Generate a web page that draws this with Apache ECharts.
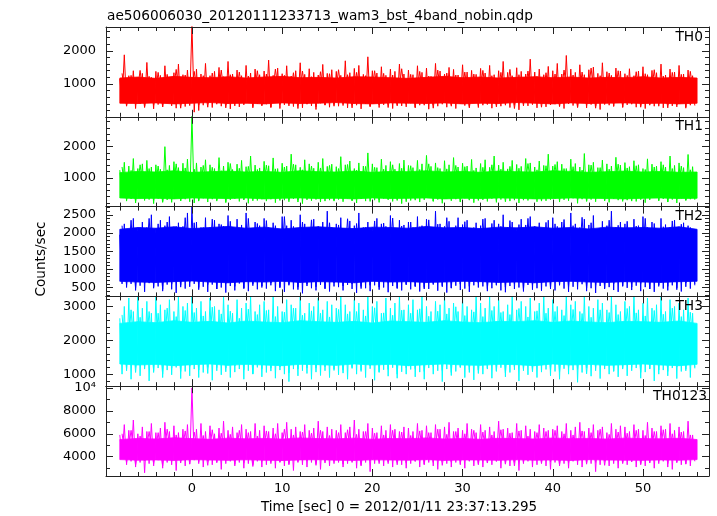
<!DOCTYPE html>
<html><head><meta charset="utf-8">
<script src="https://cdn.jsdelivr.net/npm/echarts@6/dist/echarts.min.js"></script>
<style>html,body{margin:0;padding:0;background:#fff}#c{width:717px;height:516px}</style>
</head><body><div id="c"></div>
<script>
// large excursions: 0.5 s bins starting at -8 s; each bin gives its high then its low sample
const T_START = -8, T_STEP = 0.5;
// smaller excursions: 1 s bins starting at -7.75 s
const T2_START = -7.75, T2_STEP = 1;
// dense core of each light curve, read every 2 s from -8 s to 56 s
const CORE_START = -8, CORE_STEP = 2;

const th0High = [
1150,1880,1250,1400,1180,1320,1650,1200,1380,1260,1550,1210,1340,1600,1280,1420,
2800,1450,1300,1620,1250,1380,1500,1220,1680,1300,1420,1250,1560,1330,1450,1280,
1390,1720,1260,1480,1310,1550,1240,1400,1640,1290,1460,1350,1270,1590,1320,1430,
1380,1260,1700,1340,1470,1560,1290,1820,1400,1330,1520,1260,1450,1380,1600,1300,
1420,1280,1550,1350,1480,1230,1620,1390,1300,1500,1440,1270,1580,1360,1410,1290,
1470,1330,1560,1280,1400,1680,1350,1250,1490,1380,1300,1750,1360,1450,1280,1530,
1400,1620,1300,1860,1450,1350,1580,1280,1430,1510,1320,1640,1370,1260,1480,1390,
1310,1460,1250,1390,1520,1280,1410,1340,1600,1270,1450,1360,1560,1300,1420,1250];
const th0Low = [
480,350,420,260,400,330,440,250,380,310,450,340,270,390,320,430,
150,200,360,410,290,440,330,380,250,420,310,370,430,280,400,340,
390,300,440,260,370,410,320,450,280,390,340,230,420,360,300,380,
330,410,280,440,360,250,400,320,430,290,370,410,260,380,340,310,
420,280,360,400,240,380,330,440,300,370,260,410,350,320,430,290,
360,400,270,380,330,440,290,360,220,400,340,380,280,420,310,370,
390,330,260,410,350,300,430,280,380,340,230,400,360,320,440,290,
370,420,300,350,260,390,330,410,280,380,340,310,430,270,360,400];
const th0High2 = [
1320,1260,1410,1230,1350,1290,1440,1270,1380,1250,1330,1420,1280,1360,1240,1400,
1300,1450,1260,1340,1390,1220,1370,1310,1430,1280,1350,1250,1400,1320,1270,1460,
1290,1380,1240,1420,1330,1270,1360,1300,1410,1250,1350,1440,1280,1390,1230,1340,
1300,1420,1270,1360,1480,1250,1330,1400,1260,1370,1310,1430,1240,1350,1290,1380];
const th0Low2 = [
330,380,290,360,310,400,270,350,370,300,390,280,340,410,320,360,
290,380,340,260,400,310,370,330,350,280,410,320,370,290,340,390,
300,360,270,390,330,400,280,350,380,310,360,260,340,390,300,370,
320,400,290,350,270,380,340,310,390,300,360,330,280,370,310,350];
const th0CoreHigh = [1180,1210,1170,1230,1200,1190,1220,1180,1210,1230,1190,1200,1180,1220,1210,1190,
1170,1200,1230,1190,1210,1180,1200,1220,1190,1210,1180,1200,1190,1220,1180,1200,1180];
const th0CoreLow = [420,410,430,400,420,440,410,420,400,430,410,420,440,410,400,430,
420,410,430,400,420,410,440,420,400,430,410,420,430,410,420,400,420];

const th1High = [
1250,1500,1380,1620,1300,1450,1560,1350,1420,1280,2000,1400,1520,1330,1470,1600,
3000,1480,1350,1580,1420,1300,1650,1380,1500,1270,1440,1560,1360,1700,1410,1320,
1530,1390,1640,1300,1470,1380,1760,1420,1340,1580,1450,1310,1500,1620,1370,1440,
1360,1680,1420,1540,1300,1480,1380,1800,1450,1330,1600,1400,1520,1280,1460,1570,
1400,1330,1560,1450,1720,1370,1480,1300,1550,1420,1650,1350,1470,1380,1590,1320,
1460,1580,1340,1700,1410,1500,1290,1560,1430,1370,1620,1480,1350,1540,1400,1760,
1380,1520,1440,1300,1600,1460,1350,1780,1420,1500,1330,1570,1450,1380,1660,1410,
1490,1360,1550,1420,1300,1610,1440,1380,1520,1350,1700,1400,1480,1330,1750,1360];
const th1Low = [
380,260,330,200,350,280,310,180,340,250,300,220,360,270,320,240,
200,290,350,230,320,260,380,210,300,340,250,310,190,350,280,330,
260,320,210,370,290,240,330,300,180,350,270,310,230,340,290,260,
310,240,350,280,200,330,260,370,290,220,340,300,250,320,180,350,
280,330,230,300,360,250,310,190,340,270,320,240,350,290,210,330,
300,250,340,220,310,370,260,290,200,330,280,350,240,310,270,320,
340,230,300,270,350,190,320,260,310,240,360,280,220,330,290,250,
290,340,250,320,210,300,360,270,330,240,310,200,350,280,320,300];
const th1High2 = [
1350,1240,1420,1300,1380,1260,1450,1320,1280,1400,1340,1230,1460,1310,1370,1270,
1410,1290,1350,1440,1260,1380,1320,1400,1300,1430,1250,1370,1340,1280,1420,1310,
1390,1270,1450,1330,1290,1400,1360,1240,1340,1420,1280,1370,1310,1460,1260,1390,
1430,1300,1360,1250,1410,1330,1280,1440,1320,1390,1270,1350,1420,1300,1380,1260];
const th1Low2 = [
300,250,340,280,220,320,270,350,260,330,290,240,350,300,270,320,
340,280,310,230,300,350,260,290,320,270,340,250,300,330,280,240,
290,350,260,310,340,230,300,280,330,270,240,320,290,350,260,310,
280,340,300,250,320,270,350,290,260,310,340,280,230,320,290,330];
const th1CoreHigh = [1170,1210,1190,1230,1180,1200,1220,1190,1210,1180,1230,1200,1190,1220,1180,1210,
1200,1230,1190,1210,1180,1220,1200,1190,1230,1210,1180,1200,1220,1190,1210,1180,1190];
const th1CoreLow = [360,340,350,330,360,350,340,360,330,350,360,340,350,330,360,340,
350,360,330,350,340,360,350,330,340,360,350,340,330,350,360,340,350];

const th2High = [
1950,2250,2100,2400,2050,2300,2150,2500,2000,2350,2200,2450,2080,2280,2180,2550,
2750,2300,2150,2420,2050,2350,2250,2180,2480,2100,2380,2220,2550,2120,2300,2200,
2400,2150,2280,2050,2450,2200,2350,2120,2500,2250,2080,2380,2180,2300,2600,2150,
2250,2420,2100,2330,2200,2550,2150,2300,2050,2400,2250,2180,2480,2120,2350,2220,
2300,2150,2450,2200,2380,2080,2600,2250,2180,2320,2100,2420,2230,2350,2050,2280,
2200,2400,2120,2350,2250,2500,2150,2300,2050,2380,2220,2450,2180,2280,2100,2350,
2420,2180,2300,2080,2550,2250,2150,2380,2220,2480,2100,2320,2200,2600,2150,2300,
2250,2100,2380,2200,2450,2150,2300,2050,2400,2230,2150,2350,2080,2280,2200,2050];
const th2Low = [
600,500,600,420,550,380,620,480,530,400,580,450,350,560,470,520,
600,440,520,380,580,460,500,360,540,420,610,480,400,550,450,500,
470,560,400,520,380,590,450,510,340,540,480,420,570,460,390,530,
510,420,570,460,350,530,480,400,560,440,500,370,540,470,420,580,
450,540,390,500,460,580,410,520,360,490,550,430,470,380,560,500,
530,400,480,560,420,370,540,460,500,390,570,440,480,410,530,460,
420,560,470,380,520,450,590,400,480,350,540,460,510,430,380,550,
490,430,550,400,510,460,380,530,470,420,560,440,390,520,470,600];
const th2High2 = [
2200,2350,2150,2400,2250,2300,2180,2420,2280,2150,2380,2230,2320,2120,2400,2260,
2340,2200,2450,2180,2300,2360,2140,2280,2220,2390,2260,2150,2330,2270,2410,2190,
2300,2170,2360,2240,2420,2200,2310,2150,2380,2260,2180,2340,2230,2400,2160,2290,
2250,2370,2200,2430,2280,2140,2350,2210,2320,2190,2400,2260,2170,2330,2240,2150];
const th2Low2 = [
560,480,620,520,450,590,510,640,500,580,460,610,530,470,600,540,
620,490,560,440,590,520,480,630,540,600,470,560,510,640,490,580,
520,460,610,550,480,590,530,620,470,570,510,600,450,560,620,500,
580,520,640,480,560,490,600,530,510,610,460,570,530,490,620,560];
const th2CoreHigh = [2100,2150,2130,2170,2120,2150,2180,2130,2160,2110,2150,2170,2140,2120,2160,2150,
2130,2180,2140,2150,2120,2160,2140,2170,2130,2150,2110,2160,2140,2150,2130,2170,2100];
const th2CoreLow = [670,650,640,660,680,650,630,660,650,670,640,660,650,630,670,650,
660,640,650,670,660,640,650,630,660,670,650,640,660,650,640,660,670];

const th3High = [
2650,3000,3250,2850,3300,2950,3150,2800,3300,3050,2900,3200,2850,3300,3000,3100,
3300,2950,3150,2850,3250,3000,2900,3300,3050,2800,3200,2950,3100,3300,2850,3050,
3150,2900,3300,3000,2850,3200,3050,2950,3300,2800,3100,3000,3250,2900,3150,3050,
2950,3300,3050,2850,3200,3100,2900,3300,3000,3150,2800,3250,2950,3100,3300,2900,
3050,3200,2900,3300,3000,2850,3150,3050,3300,2950,3100,2850,3250,3000,2900,3300,
3100,2950,3300,3000,3200,2850,3050,3300,2900,3150,3000,3250,2850,3100,3300,2950,
3200,3000,2900,3300,3050,3150,2850,3300,3000,2950,3200,3100,2900,3300,3050,2850,
3150,3000,3300,2900,3100,3250,2950,3050,3300,2850,3200,3000,3100,2900,3250,2800];
const th3Low = [
1000,1100,850,1200,950,1150,800,1050,1180,900,1120,980,1200,870,1080,950,
1150,900,1050,1200,820,1100,980,1180,900,1060,1150,850,1100,1000,1200,920,
1050,1180,880,1120,1000,780,1150,950,1100,1020,850,1180,960,1100,900,1150,
980,1120,850,1200,1000,1080,900,1160,820,1050,1130,940,1190,880,1070,1000,
1140,920,1060,850,1180,1000,1100,780,1150,960,1080,1200,900,1050,830,1120,
1000,1150,880,1080,1190,920,1050,1130,800,1100,980,1170,900,1060,1140,950,
1080,850,1160,1000,1120,760,1050,1180,940,1100,870,1150,1000,1080,920,1190,
950,1100,1180,880,1060,1150,800,1000,1120,950,1180,870,1080,1150,900,1200];
const th3High2 = [
2750,2900,2680,2850,2800,2950,2700,2880,2820,2720,2980,2780,2860,2650,2920,2760,
2880,2700,2830,2950,2740,2870,2800,2690,2910,2780,2850,2720,2960,2810,2740,2890,
2800,2930,2710,2860,2780,2990,2730,2840,2700,2880,2820,2760,2940,2690,2870,2800,
2850,2730,2910,2790,2680,2900,2820,2760,2940,2810,2720,2880,2770,2950,2700,2830];
const th3Low2 = [
1150,1050,1200,1100,1000,1180,1080,1230,1120,1020,1190,1070,1240,1130,1010,1160,
1090,1210,1040,1150,1180,1060,1220,1110,1030,1170,1120,1250,1070,1140,1000,1190,
1160,1080,1230,1110,1050,1200,1130,1020,1180,1100,1040,1210,1150,1070,1240,1120,
1060,1190,1140,1010,1170,1230,1090,1150,1200,1050,1160,1120,1080,1220,1100,1170];
const th3CoreHigh = [2500,2550,2520,2580,2530,2560,2510,2570,2540,2520,2580,2550,2530,2560,2510,2570,
2550,2530,2580,2540,2520,2560,2550,2580,2530,2570,2540,2520,2560,2550,2530,2570,2500];
const th3CoreLow = [1300,1270,1290,1250,1280,1300,1260,1290,1270,1250,1290,1280,1260,1300,1270,1290,
1250,1280,1300,1270,1260,1290,1280,1250,1300,1270,1290,1260,1280,1300,1270,1250,1290];

const thAllHigh = [
5900,6800,6300,7200,6000,6600,6200,6900,6100,6500,7000,6200,6700,6100,6400,6800,
10000,6400,6900,6200,6700,6000,6500,7100,6300,6600,6100,6800,6400,6200,6900,6300,
6700,6200,6500,6900,6100,7000,6400,6600,6200,6800,6300,6500,7100,6200,6600,6400,
6300,6800,6100,6600,7200,6400,6200,6900,6500,6100,6700,6300,6800,6400,6200,6600,
6500,6200,6900,6300,6700,6100,6800,6400,6600,7000,6200,6500,6300,6900,6400,6100,
6800,6300,6600,6200,7100,6400,6500,6100,6900,6300,6700,6400,6200,6800,6500,6300,
6400,6700,6200,6900,6300,6600,7000,6200,6500,6800,6300,6600,6100,6900,6400,6700,
6600,6200,6800,6400,6300,7000,6500,6200,6700,6400,6900,6300,6600,6200,7100,5900];
const thAllLow = [
3900,3300,3600,3100,3500,2600,3400,3200,3700,3000,3500,3300,2800,3600,3200,3400,
3700,3400,3100,3600,3300,3500,2900,3400,3600,3200,3500,3000,3400,3300,3600,3100,
3300,3600,3000,3500,3200,3400,2800,3600,3300,3100,3500,3400,2900,3600,3200,3400,
3500,3100,3400,3600,3000,3300,3500,2700,3400,3600,3200,3400,3100,3500,3300,3000,
3400,3600,3100,3300,3500,3200,2900,3600,3400,3100,3500,3300,3000,3600,3200,3400,
3100,3500,3300,3600,3000,3400,3200,3500,2800,3400,3600,3100,3300,3500,3200,2900,
3500,3200,3400,3000,3600,3300,3100,3500,3400,2700,3300,3600,3200,3400,3000,3500,
3300,3600,3100,3400,3200,3500,3000,3400,3600,3100,2900,3500,3300,3400,3200,3700];
const thAllHigh2 = [
6000,6300,5800,6200,6100,6400,5900,6250,6150,5850,6350,6050,5950,6300,6100,5800,
6250,6000,6400,5900,6150,6050,6300,5850,6100,6350,5950,6200,6050,5900,6300,6150,
5850,6250,6100,6400,5950,6200,6000,6300,6150,5900,6350,6050,6250,5800,6100,6200,
6300,6000,5900,6250,6100,6400,5950,6150,6050,6300,5850,6200,6350,6000,6150,5900];
const thAllLow2 = [
3500,3300,3650,3400,3200,3600,3450,3350,3550,3250,3500,3650,3350,3450,3150,3600,
3400,3550,3300,3500,3650,3250,3450,3600,3350,3500,3200,3650,3400,3550,3300,3450,
3600,3350,3500,3250,3550,3400,3650,3300,3450,3600,3350,3200,3500,3650,3400,3550,
3300,3450,3600,3350,3500,3250,3650,3400,3550,3300,3450,3600,3400,3500,3350,3600];
const thAllCoreHigh = [5500,5600,5550,5650,5580,5520,5620,5560,5600,5540,5640,5580,5560,5620,5530,5600,
5570,5640,5550,5600,5520,5610,5580,5550,5630,5570,5600,5540,5620,5580,5560,5610,5500];
const thAllCoreLow = [3750,3700,3720,3680,3740,3710,3690,3730,3700,3670,3720,3740,3700,3680,3730,3710,
3700,3740,3680,3720,3710,3690,3730,3700,3720,3680,3740,3710,3700,3690,3720,3700,3750];

const panelNames = ['TH0', 'TH1', 'TH2', 'TH3', 'TH0123'];
const colors = ['#ff0000', '#00ff00', '#0000ff', '#00ffff', '#ff00ff'];
const highs = [th0High, th1High, th2High, th3High, thAllHigh];
const lows = [th0Low, th1Low, th2Low, th3Low, thAllLow];
const highs2 = [th0High2, th1High2, th2High2, th3High2, thAllHigh2];
const lows2 = [th0Low2, th1Low2, th2Low2, th3Low2, thAllLow2];
const coreHighs = [th0CoreHigh, th1CoreHigh, th2CoreHigh, th3CoreHigh, thAllCoreHigh];
const coreLows = [th0CoreLow, th1CoreLow, th2CoreLow, th3CoreLow, thAllCoreLow];
const yMin = [10, 84, 255, 644, 2320];
const yMax = [2720, 2955, 2725, 3297, 10150];
const yMajor = [1000, 1000, 500, 1000, 2000];
const yMinorSplit = [5, 5, 5, 5, 2];
const xMin = -9.53, xMax = 57.32, xMajor = 10;
const mainTitle = 'ae506006030_20120111233713_wam3_bst_4band_nobin.qdp';
const xTitle = 'Time [sec] 0 = 2012/01/11 23:37:13.295';
const yTitle = 'Counts/sec';

function zigzag(hi, lo, start, step) {
  const d = [];
  for (let i = 0; i < hi.length; i++) {
    const t = start + i * step;
    d.push([t, hi[i]]);
    d.push([t + step / 2, lo[i]]);
  }
  return d;
}
// one item per core segment: [t0, lo0, hi0, t1, lo1, hi1]
function coreSegments(hi, lo) {
  const d = [];
  for (let i = 0; i + 1 < hi.length; i++) {
    d.push([CORE_START + i * CORE_STEP, lo[i], hi[i],
            CORE_START + (i + 1) * CORE_STEP, lo[i + 1], hi[i + 1]]);
  }
  return d;
}
function makeCoreRenderer(color) {
  return function (params, api) {
    const a = api.coord([api.value(0), api.value(2)]);
    const b = api.coord([api.value(3), api.value(5)]);
    const c = api.coord([api.value(3), api.value(4)]);
    const d = api.coord([api.value(0), api.value(1)]);
    return {type: 'polygon', shape: {points: [a, b, c, d]},
      style: {fill: color, stroke: color, lineWidth: 0.8}, silent: true};
  };
}

const FONT = 'DejaVu Sans';
const GRID_TOP = 27, GRID_H = 89.8, GRID_LEFT = 106, GRID_W = 603;
const grids = [], xAxes = [], yAxes = [], series = [];
const titles = [
  {text: mainTitle, left: 107, top: 9, padding: 0,
   textStyle: {fontFamily: FONT, fontSize: 13.7, fontWeight: 'normal', color: '#000'}},
  {text: xTitle, left: 261, top: 500, padding: 0,
   textStyle: {fontFamily: FONT, fontSize: 13.5, fontWeight: 'normal', color: '#000'}}
];
const lineCol = '#222';
for (let i = 0; i < 5; i++) {
  const top = GRID_TOP + i * GRID_H;
  grids.push({left: GRID_LEFT, top: top, width: GRID_W, height: GRID_H});
  titles.push({text: panelNames[i], right: i === 4 ? 10 : 14, top: top + 3, padding: 0, z: 10,
    textStyle: {fontFamily: FONT, fontSize: 13.8, fontWeight: 'normal', color: '#000'}});
  const axisLine = {show: true, onZero: false, lineStyle: {color: lineCol, width: 1}};
  ['bottom', 'top'].forEach(function (pos) {
    xAxes.push({type: 'value', gridIndex: i, position: pos, min: xMin, max: xMax,
      minInterval: xMajor, maxInterval: xMajor, z: 5,
      axisLine: axisLine,
      axisTick: {show: true, inside: true, length: 7, lineStyle: {color: lineCol}},
      minorTick: {show: true, splitNumber: 5, length: 4, lineStyle: {color: lineCol}},
      splitLine: {show: false}, minorSplitLine: {show: false},
      axisLabel: {show: pos === 'bottom' && i === 4, margin: 6, fontFamily: FONT, fontSize: 13,
        color: '#000', showMinLabel: false, showMaxLabel: false,
        formatter: function (v) { return String(v); }}
    });
  });
  ['left', 'right'].forEach(function (pos) {
    yAxes.push({type: 'value', gridIndex: i, position: pos, min: yMin[i], max: yMax[i],
      minInterval: yMajor[i], maxInterval: yMajor[i], z: 5,
      axisLine: axisLine,
      axisTick: {show: true, inside: true, length: 7, lineStyle: {color: lineCol}},
      minorTick: {show: true, splitNumber: yMinorSplit[i], length: 4, lineStyle: {color: lineCol}},
      splitLine: {show: false}, minorSplitLine: {show: false},
      axisLabel: {show: pos === 'left', margin: 10, fontFamily: FONT, fontSize: 13,
        color: '#000', showMinLabel: false, showMaxLabel: false,
        formatter: function (v) { return v === 10000 ? '10\u2074' : String(v); }}
    });
  });
  // dense core band
  series.push({type: 'custom', xAxisIndex: 2 * i, yAxisIndex: 2 * i, z: 1,
    data: coreSegments(coreHighs[i], coreLows[i]),
    encode: {x: [0, 3], y: [1, 2, 4, 5]},
    renderItem: makeCoreRenderer(colors[i]), silent: true, animation: false});
  // excursions
  series.push({type: 'line', xAxisIndex: 2 * i, yAxisIndex: 2 * i, z: 2,
    data: zigzag(highs2[i], lows2[i], T2_START, T2_STEP), showSymbol: false, symbol: 'none',
    lineStyle: {color: colors[i], width: 1}, itemStyle: {color: colors[i]},
    clip: true, silent: true, animation: false});
  series.push({type: 'line', xAxisIndex: 2 * i, yAxisIndex: 2 * i, z: 2,
    data: zigzag(highs[i], lows[i], T_START, T_STEP), showSymbol: false, symbol: 'none',
    lineStyle: {color: colors[i], width: 1}, itemStyle: {color: colors[i]},
    clip: true, silent: true, animation: false});
}

const chart = echarts.init(document.getElementById('c'), null, {renderer: 'canvas'});
chart.setOption({
  backgroundColor: '#fff',
  animation: false,
  title: titles,
  grid: grids,
  xAxis: xAxes,
  yAxis: yAxes,
  series: series,
  graphic: [{type: 'text', x: 41, y: 259, rotation: Math.PI / 2,
    style: {text: yTitle, fontFamily: FONT, fontSize: 13.6, fill: '#000',
      textAlign: 'center', textVerticalAlign: 'middle', verticalAlign: 'middle'}}]
});
</script>
</body></html>
